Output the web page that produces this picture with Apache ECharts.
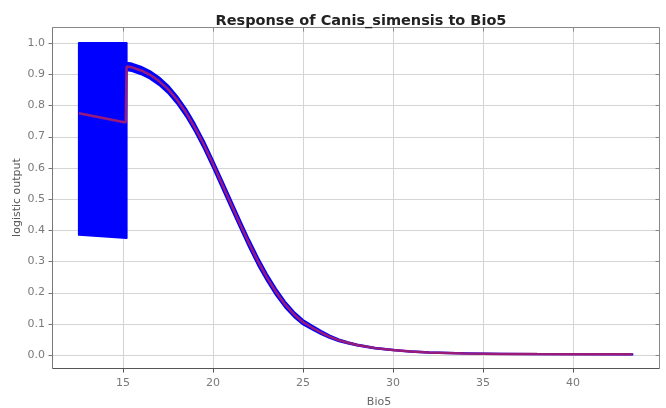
<!DOCTYPE html>
<html><head><meta charset="utf-8">
<script src="https://cdn.jsdelivr.net/npm/echarts@6/dist/echarts.min.js"></script>
<style>html,body{margin:0;padding:0;background:#fff}#c{width:666px;height:408px}</style>
</head><body><div id="c"></div>
<script>
const xTicks = [15, 20, 25, 30, 35, 40];
const yTicks = [0, 0.1, 0.2, 0.3, 0.4, 0.5, 0.6, 0.7, 0.8, 0.9, 1.0];
const meanX = [12.55, 15.15, 15.2, 15.5, 16, 16.5, 17, 17.5, 18, 18.5, 19, 19.5, 20, 20.5, 21, 21.5, 22, 22.5, 23, 23.5, 24, 24.5, 25, 25.5, 26, 26.5, 27, 27.5, 28, 29, 30, 31, 32, 34, 36, 38, 40, 43.3];
const meanY = [0.775, 0.745, 0.925, 0.922, 0.912, 0.898, 0.878, 0.852, 0.818, 0.777, 0.728, 0.673, 0.612, 0.548, 0.484, 0.42, 0.358, 0.30, 0.248, 0.202, 0.162, 0.13, 0.105, 0.088, 0.072, 0.058, 0.047, 0.039, 0.032, 0.022, 0.016, 0.011, 0.008, 0.005, 0.0035, 0.0028, 0.0024, 0.002];
const curveSd = [0.012, 0.012, 0.012, 0.012, 0.012, 0.012, 0.012, 0.012, 0.012, 0.012, 0.012, 0.012, 0.012, 0.012, 0.012, 0.012, 0.011, 0.010, 0.009, 0.008, 0.007, 0.006, 0.005, 0.004, 0.003, 0.002, 0.0015, 0.001, 0.0008, 0.0006, 0.0005, 0.0004, 0.0003, 0.0003, 0.0003, 0.0003];
const firstBandX = [12.55, 15.2];
const firstBandUpper = [1.0, 1.0];
const firstBandLower = [0.385, 0.375];

const bandX = firstBandX.concat(meanX.slice(2));
const bandUpper = firstBandUpper.concat(meanY.slice(2).map((v, i) => v + curveSd[i]));
const bandLower = firstBandLower.concat(meanY.slice(2).map((v, i) => v - curveSd[i]));

const XMIN = 11.056, XMAX = 44.83, YMIN = -0.0417, YMAX = 1.0513;
const chart = echarts.init(document.getElementById('c'), null, {renderer: 'canvas'});
const gridColor = '#d4d4d4';
const labelStyle = {color: '#7a7a7a', fontSize: 11, fontFamily: 'DejaVu Sans'};

// grid lines, frame and ticks, positioned through the axes' own scales
function frameItems(params, api) {
  const children = [];
  const tl = api.coord([XMIN, YMAX]), br = api.coord([XMAX, YMIN]);
  const L = Math.round(tl[0]) + 0.5, T = Math.round(tl[1]) + 0.5, R = Math.round(br[0]) - 0.5, B = Math.round(br[1]) + 0.5;
  const seg = (x1, y1, x2, y2, c) => children.push({type: 'line', shape: {x1, y1, x2, y2}, style: {stroke: c, lineWidth: 1}});
  xTicks.forEach(v => {
    const x = Math.round(api.coord([v, 0])[0]) + 0.5;
    seg(x, T, x, B, gridColor);
    seg(x, T, x, T + 4, '#888');
    seg(x, B, x, B + 4, '#555');
  });
  yTicks.forEach(v => {
    const y = Math.round(api.coord([XMIN, v])[1]) + 0.5;
    seg(L, y, R, y, gridColor);
    seg(R - 4, y, R, y, '#888');
    seg(L - 4, y, L, y, '#777');
  });
  seg(L, T, R, T, '#888');
  seg(R, T, R, B, '#888');
  seg(L, T, L, B, '#777');
  seg(L, B, R, B, '#555');
  return {type: 'group', children: children};
}

chart.setOption({
  animation: false,
  backgroundColor: '#ffffff',
  title: {
    text: 'Response of Canis_simensis to Bio5',
    left: 356, top: 9, textAlign: 'center',
    textStyle: {fontFamily: 'DejaVu Sans', fontWeight: 'bold', fontSize: 14.5, color: '#222'}
  },
  grid: {left: 52, right: 6, top: 27, bottom: 40, containLabel: false, outerBoundsMode: 'none'},
  xAxis: [{
    type: 'value', min: XMIN, max: XMAX,
    name: 'Bio5', nameLocation: 'middle', nameGap: 29, nameMoveOverlap: false,
    nameTextStyle: {color: '#666', fontSize: 11, fontFamily: 'DejaVu Sans', padding: [0, 0, 0, 46]},
    axisLine: {show: false},
    axisTick: {show: false},
    axisLabel: {customValues: xTicks, margin: 10, ...labelStyle},
    splitLine: {show: false}
  }],
  yAxis: [{
    type: 'value', min: YMIN, max: YMAX,
    name: 'logistic output', nameLocation: 'middle', nameGap: 29, nameMoveOverlap: false,
    nameTextStyle: {color: '#555', fontSize: 11, fontFamily: 'DejaVu Sans'},
    axisLine: {show: false},
    axisTick: {show: false},
    axisLabel: {customValues: yTicks, margin: 7, formatter: v => v.toFixed(1), ...labelStyle},
    splitLine: {show: false}
  }],
  series: [{
    type: 'custom',
    data: [[XMIN, YMIN]],
    renderItem: frameItems,
    clip: false, silent: true, z: 1
  }, {
    type: 'custom',
    data: [[bandX[0], bandUpper[0]]],
    renderItem: function (params, api) {
      const pts = [];
      for (let i = 0; i < bandX.length; i++) pts.push(api.coord([bandX[i], bandUpper[i]]));
      for (let i = bandX.length - 1; i >= 0; i--) pts.push(api.coord([bandX[i], bandLower[i]]));
      return {type: 'polygon', shape: {points: pts}, style: {fill: '#0000ff', stroke: '#0000ff', lineWidth: 2, lineJoin: 'round'}};
    },
    silent: true, z: 2
  }, {
    type: 'line',
    data: meanX.map((x, i) => [x, meanY[i]]),
    showSymbol: false, symbol: 'none',
    lineStyle: {color: '#9a1a7a', width: 2.5},
    silent: true, z: 3
  }]
});
</script></body></html>
